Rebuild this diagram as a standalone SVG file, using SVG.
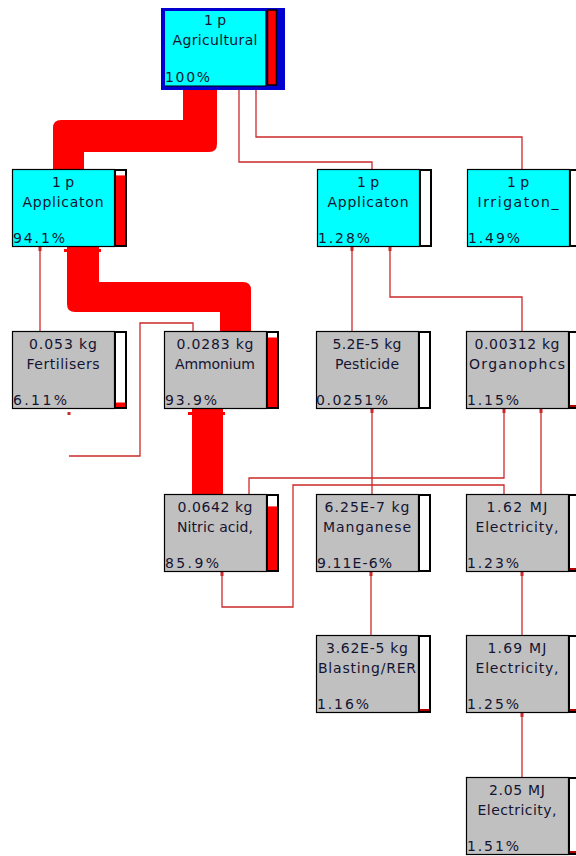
<svg xmlns="http://www.w3.org/2000/svg" width="576" height="856" viewBox="0 0 576 856">
<style>
.cy{fill:#00ffff;stroke:#000;stroke-width:1.2}
.gy{fill:#c0c0c0;stroke:#000;stroke-width:1.2}
.bar{fill:#fff;stroke:#000;stroke-width:2}
.fill{fill:#ff0000}
.low{fill:#b00000}
.t{font-family:"DejaVu Sans",Verdana,sans-serif;font-size:14px;fill:#141432;text-anchor:middle}
.p{font-family:"DejaVu Sans",Verdana,sans-serif;font-size:14px;fill:#141432;text-anchor:start}
.ln{fill:none;stroke:#cc2a2a;stroke-width:1.3}
.band{fill:#ff0000}
.mk{fill:#cc2a2a}
</style>
<rect width="576" height="856" fill="#fff"/>
<g id="connectors">
<path class="band" d="M183,90 L217,90 L217,144 Q217,152 209,152 L84,152 L84,169 L53,169 L53,128 Q53,120 61,120 L183,120 Z"/>
<path class="band" d="M67,247 L99,247 L99,282 L243,282 Q251,282 251,290 L251,331 L220,331 L220,312 L75,312 Q67,312 67,304 Z"/>
<rect class="band" x="64" y="249" width="37" height="3"/>
<rect class="band" x="192" y="409" width="31" height="85"/>
<rect class="band" x="188" y="412" width="37" height="3"/>
<path class="ln" d="M239,90 V162 H372 V169"/>
<path class="ln" d="M256,90 V137 H522 V169"/>
<path class="ln" d="M40,247 V331"/>
<path class="ln" d="M69,456 H140 V323 H193 V331"/>
<path class="ln" d="M352,247 V331"/>
<path class="ln" d="M390,247 V297 H522 V331"/>
<path class="ln" d="M372,409 V494"/>
<path class="ln" d="M504,409 V478 H249 V494"/>
<path class="ln" d="M541,409 V494"/>
<path class="ln" d="M222,572 V607 H293 V485 H504 V494"/>
<path class="ln" d="M371,572 V635"/>
<path class="ln" d="M522,572 V635"/>
<path class="ln" d="M522,713 V777"/>
<rect class="mk" x="38.5" y="247" width="3" height="4"/>
<rect class="mk" x="350.5" y="247" width="3" height="4"/>
<rect class="mk" x="388.5" y="247" width="3" height="4"/>
<rect class="mk" x="370.5" y="409" width="3" height="4"/>
<rect class="mk" x="502.5" y="409" width="3" height="4"/>
<rect class="mk" x="539.5" y="409" width="3" height="4"/>
<rect class="mk" x="67.5" y="412" width="3" height="3"/>
<rect class="mk" x="220.5" y="572" width="3" height="4"/>
<rect class="mk" x="369.5" y="572" width="3" height="4"/>
<rect class="mk" x="520.5" y="572" width="3" height="4"/>
<rect class="mk" x="520.5" y="713" width="3" height="4"/>
</g>
<g id="n-agricultural">
<rect x="161" y="8" width="124" height="82" fill="#0000d0"/>
<rect x="165" y="11" width="101" height="75" fill="#00ffff"/>
<path d="M266,10 V86 H165" fill="none" stroke="#000" stroke-width="1.2"/>
<rect x="267.5" y="10" width="9" height="75" fill="#ff0000" stroke="#000" stroke-width="1.5"/>
<text class="t" x="215" y="25">1 p</text>
<text class="t" x="215" y="45" textLength="85">Agricultural</text>
<text class="p" x="165" y="82" textLength="45">100%</text>
</g>
<g id="n-app1">
<rect class="cy" x="12.5" y="169.5" width="102" height="77"/>
<rect class="bar" x="115" y="170" width="11" height="76"/>
<rect class="fill" x="116" y="175.4" width="9" height="69.6"/>
<text class="t" x="63" y="187">1 p</text>
<text class="t" x="63" y="207" textLength="81">Applicaton</text>
<text class="p" x="13" y="243" textLength="52">94.1%</text>
</g>
<g id="n-app2">
<rect class="cy" x="317.5" y="169.5" width="102" height="77"/>
<rect class="bar" x="420" y="170" width="11" height="76"/>
<text class="t" x="368" y="187">1 p</text>
<text class="t" x="368" y="207" textLength="81">Applicaton</text>
<text class="p" x="318" y="243" textLength="52">1.28%</text>
</g>
<g id="n-irrigation">
<rect class="cy" x="467.5" y="169.5" width="102" height="77"/>
<rect class="bar" x="570" y="170" width="11" height="76"/>
<text class="t" x="518" y="187">1 p</text>
<text class="t" x="518" y="207" textLength="81">Irrigaton_</text>
<text class="p" x="468" y="243" textLength="52">1.49%</text>
</g>
<g id="n-fertilisers">
<rect class="gy" x="12.5" y="331.5" width="102" height="77"/>
<rect class="bar" x="115" y="332" width="11" height="76"/>
<rect class="fill" x="116" y="402.5" width="9" height="4.5"/>
<text class="t" x="63" y="349" textLength="68">0.053 kg</text>
<text class="t" x="63" y="369" textLength="73">Fertilisers</text>
<text class="p" x="13" y="405" textLength="54">6.11%</text>
</g>
<g id="n-ammonium">
<rect class="gy" x="164.5" y="331.5" width="102" height="77"/>
<rect class="bar" x="267" y="332" width="11" height="76"/>
<rect class="fill" x="268" y="337.5" width="9" height="69.5"/>
<text class="t" x="215" y="349" textLength="77">0.0283 kg</text>
<text class="t" x="215" y="369" textLength="80">Ammonium</text>
<text class="p" x="165" y="405" textLength="52">93.9%</text>
</g>
<g id="n-pesticide">
<rect class="gy" x="316.5" y="331.5" width="102" height="77"/>
<rect class="bar" x="419" y="332" width="11" height="76"/>
<text class="t" x="367" y="349" textLength="69">5.2E-5 kg</text>
<text class="t" x="367" y="369" textLength="64">Pesticide</text>
<text class="p" x="316" y="405" textLength="72">0.0251%</text>
</g>
<g id="n-organophos">
<rect class="gy" x="466.5" y="331.5" width="102" height="77"/>
<rect class="bar" x="569" y="332" width="11" height="76"/>
<rect class="low" x="570" y="405" width="9" height="2"/>
<text class="t" x="517" y="349" textLength="85">0.00312 kg</text>
<text class="t" x="517" y="369" textLength="96">Organophcs</text>
<text class="p" x="467" y="405" textLength="52">1.15%</text>
</g>
<g id="n-nitric">
<rect class="gy" x="164.5" y="494.5" width="102" height="77"/>
<rect class="bar" x="267" y="495" width="11" height="76"/>
<rect class="fill" x="268" y="506.4" width="9" height="63.6"/>
<text class="t" x="215" y="512" textLength="75">0.0642 kg</text>
<text class="t" x="215" y="532" textLength="76">Nitric acid,</text>
<text class="p" x="165" y="568" textLength="54">85.9%</text>
</g>
<g id="n-manganese">
<rect class="gy" x="316.5" y="494.5" width="102" height="77"/>
<rect class="bar" x="419" y="495" width="11" height="76"/>
<text class="t" x="367" y="512" textLength="85">6.25E-7 kg</text>
<text class="t" x="367" y="532" textLength="88">Manganese</text>
<text class="p" x="317" y="568" textLength="75">9.11E-6%</text>
</g>
<g id="n-electricity1">
<rect class="gy" x="466.5" y="494.5" width="102" height="77"/>
<rect class="bar" x="569" y="495" width="11" height="76"/>
<rect class="low" x="570" y="568" width="9" height="2"/>
<text class="t" x="517" y="512" textLength="61">1.62 MJ</text>
<text class="t" x="517" y="532" textLength="83">Electricity,</text>
<text class="p" x="467" y="568" textLength="52">1.23%</text>
</g>
<g id="n-blasting">
<rect class="gy" x="316.5" y="635.5" width="102" height="77"/>
<rect class="bar" x="419" y="636" width="11" height="76"/>
<rect class="low" x="420" y="709" width="9" height="2"/>
<text class="t" x="367" y="653" textLength="82">3.62E-5 kg</text>
<text class="t" x="367" y="673" textLength="98">Blasting/RER</text>
<text class="p" x="317" y="709" textLength="52">1.16%</text>
</g>
<g id="n-electricity2">
<rect class="gy" x="466.5" y="635.5" width="102" height="77"/>
<rect class="bar" x="569" y="636" width="11" height="76"/>
<rect class="low" x="570" y="709" width="9" height="2"/>
<text class="t" x="517" y="653" textLength="59">1.69 MJ</text>
<text class="t" x="517" y="673" textLength="83">Electricity,</text>
<text class="p" x="467" y="709" textLength="52">1.25%</text>
</g>
<g id="n-electricity3">
<rect class="gy" x="466.5" y="777.5" width="102" height="77"/>
<rect class="bar" x="569" y="778" width="11" height="76"/>
<rect class="low" x="570" y="851" width="9" height="2"/>
<text class="t" x="517" y="795" textLength="56">2.05 MJ</text>
<text class="t" x="517" y="815" textLength="79">Electricity,</text>
<text class="p" x="467" y="851" textLength="52">1.51%</text>
</g>
</svg>
